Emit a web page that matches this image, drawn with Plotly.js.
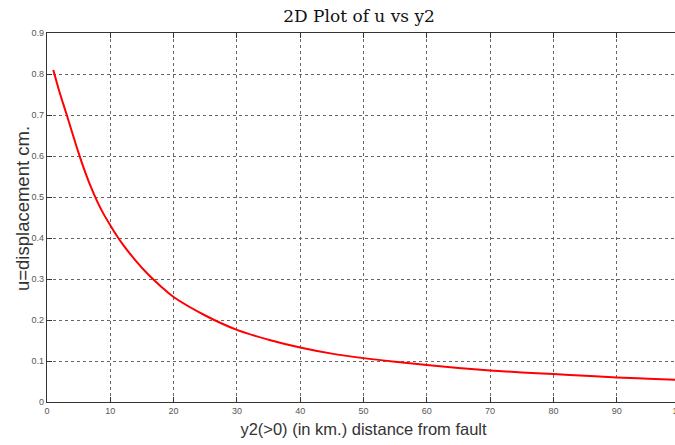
<!DOCTYPE html>
<html>
<head>
<meta charset="utf-8">
<script src="https://cdn.plot.ly/plotly-3.0.1.min.js"></script>
<style>
  html, body { margin: 0; padding: 0; overflow: hidden; background: #fff; }
  #chart { width: 692px; height: 445px; }
</style>
</head>
<body>
<div id="chart"></div>
<script>
// Distance from fault (km) and displacement (cm)
const y2 = [1, 2, 3, 4, 5, 6, 7, 8, 9, 10, 11, 12, 14, 16, 18, 20, 25, 30, 35, 40, 45, 50, 55, 60, 65, 70, 75, 80, 85, 90, 95, 100];
const u  = [0.81, 0.755, 0.706, 0.656, 0.607, 0.562, 0.522, 0.487, 0.457, 0.431, 0.406, 0.384, 0.345, 0.311, 0.282, 0.256, 0.211, 0.176, 0.152, 0.133, 0.118, 0.107, 0.098, 0.090, 0.083, 0.077, 0.072, 0.068, 0.064, 0.060, 0.057, 0.054];
const xTicks = [0, 10, 20, 30, 40, 50, 60, 70, 80, 90, 100];
const yTicks = [0, 0.1, 0.2, 0.3, 0.4, 0.5, 0.6, 0.7, 0.8, 0.9];
const yTickText = ['0', '0.1', '0.2', '0.3', '0.4', '0.5', '0.6', '0.7', '0.8', '0.9'];
const titleText = '2D Plot of u vs y2';
const xTitleText = 'y2(>0) (in km.) distance from fault';
const yTitleText = 'u=displacement cm.';

const trace = {
  x: y2, y: u, type: 'scatter', mode: 'lines',
  line: { color: '#ff0000', width: 2, shape: 'spline', smoothing: 1 },
  hoverinfo: 'skip'
};

const axisCommon = {
  showline: true, linecolor: '#333', linewidth: 1.3, mirror: 'ticks',
  ticks: 'inside', ticklen: 5, tickcolor: '#333', tickwidth: 1,
  showgrid: true, gridcolor: '#666', griddash: 'dot', gridwidth: 1,
  zeroline: false,
  tickfont: { family: 'Liberation Sans, Arial, sans-serif', size: 9, color: '#555' }
};

const layout = {
  width: 692, height: 445,
  margin: { l: 47, r: 12, t: 33, b: 43 },
  paper_bgcolor: '#fff', plot_bgcolor: '#fff',
  showlegend: false,
  title: {
    text: titleText,
    font: { family: 'DejaVu Serif, Liberation Serif, serif', size: 17, color: '#111' },
    xref: 'paper', x: 0.493, xanchor: 'center',
    yref: 'container', y: 0.963, yanchor: 'middle'
  },
  xaxis: Object.assign({}, axisCommon, {
    range: [0, 100], tickvals: xTicks, ticktext: xTicks.map(String),
    title: { text: xTitleText, standoff: 8,
             font: { family: 'Liberation Sans, Arial, sans-serif', size: 16.5, color: '#333' } }
  }),
  yaxis: Object.assign({}, axisCommon, {
    range: [0, 0.9], tickvals: yTicks, ticktext: yTickText
  }),
  annotations: [{
    text: yTitleText, textangle: -90, showarrow: false,
    xref: 'paper', x: 0, xshift: -25, xanchor: 'center',
    yref: 'paper', y: 0.523, yanchor: 'middle',
    font: { family: 'Liberation Sans, Arial, sans-serif', size: 18.5, color: '#333' }
  }]
};

Plotly.newPlot('chart', [trace], layout, { staticPlot: true, displayModeBar: false });
</script>
</body>
</html>
